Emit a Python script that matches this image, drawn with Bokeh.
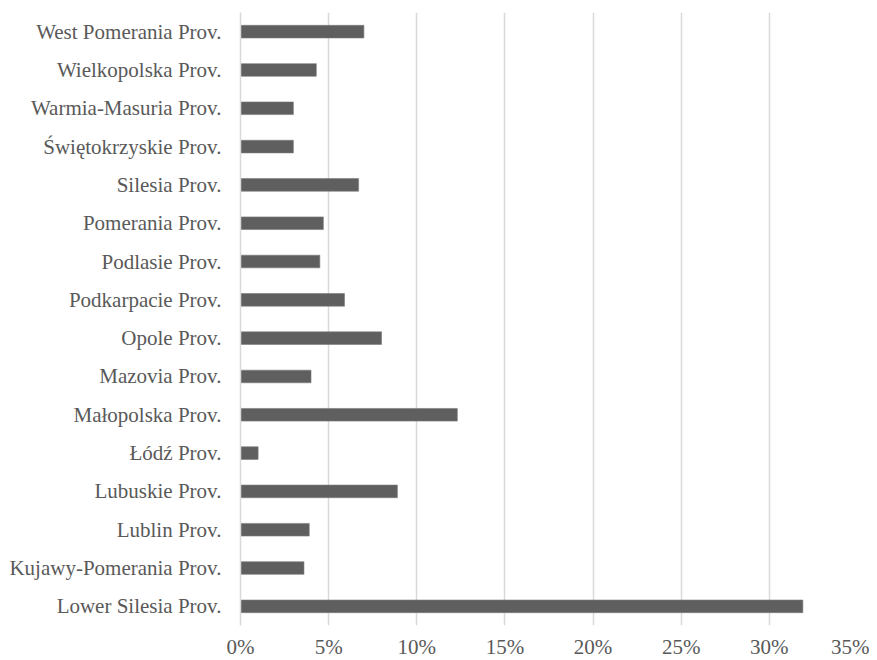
from bokeh.plotting import figure
from bokeh.models import FactorRange, Range1d, FixedTicker, PrintfTickFormatter
from bokeh.embed import file_html
from bokeh.resources import INLINE

provinces = [
    "Lower Silesia Prov.", "Kujawy-Pomerania Prov.", "Lublin Prov.", "Lubuskie Prov.",
    "Łódź Prov.", "Małopolska Prov.", "Mazovia Prov.", "Opole Prov.",
    "Podkarpacie Prov.", "Podlasie Prov.", "Pomerania Prov.", "Silesia Prov.",
    "Świętokrzyskie Prov.", "Warmia-Masuria Prov.", "Wielkopolska Prov.", "West Pomerania Prov.",
]
shares = [31.9, 3.6, 3.9, 8.9, 1.0, 12.3, 4.0, 8.0, 5.9, 4.5, 4.7, 6.7, 3.0, 3.0, 4.3, 7.0]
x_ticks = [0, 5, 10, 15, 20, 25, 30, 35]

FONT = "Liberation Serif"
TXT = "#595959"

p = figure(
    y_range=FactorRange(*provinces),
    x_range=Range1d(0, 35),
    frame_width=617, frame_height=613,
    min_border_left=240, min_border_right=12, min_border_top=12, min_border_bottom=0,
    output_backend="svg", toolbar_location=None,
)
p.hbar(y=provinces, right=shares, left=0, height=0.33,
       fill_color="#5f5f5f", line_color="#7a7a7a", line_width=0.6)

p.outline_line_color = None
p.ygrid.grid_line_color = None
p.xgrid.ticker = FixedTicker(ticks=x_ticks)
p.xgrid.grid_line_color = "#d9d9d9"
p.xgrid.grid_line_width = 1.5

p.xaxis.ticker = FixedTicker(ticks=x_ticks)
p.xaxis.formatter = PrintfTickFormatter(format="%d%%")
for ax in (p.xaxis[0], p.yaxis[0]):
    ax.major_tick_line_color = None
    ax.minor_tick_line_color = None
    ax.major_label_text_font = FONT
    ax.major_label_text_font_size = "21px"
    ax.major_label_text_color = TXT
p.xaxis.axis_line_color = None
p.xaxis.major_label_standoff = 3
p.yaxis.axis_line_color = "#d9d9d9"
p.yaxis.axis_line_width = 1.5
p.yaxis.major_label_standoff = 13

open("out.html", "w").write(file_html(p, INLINE))
